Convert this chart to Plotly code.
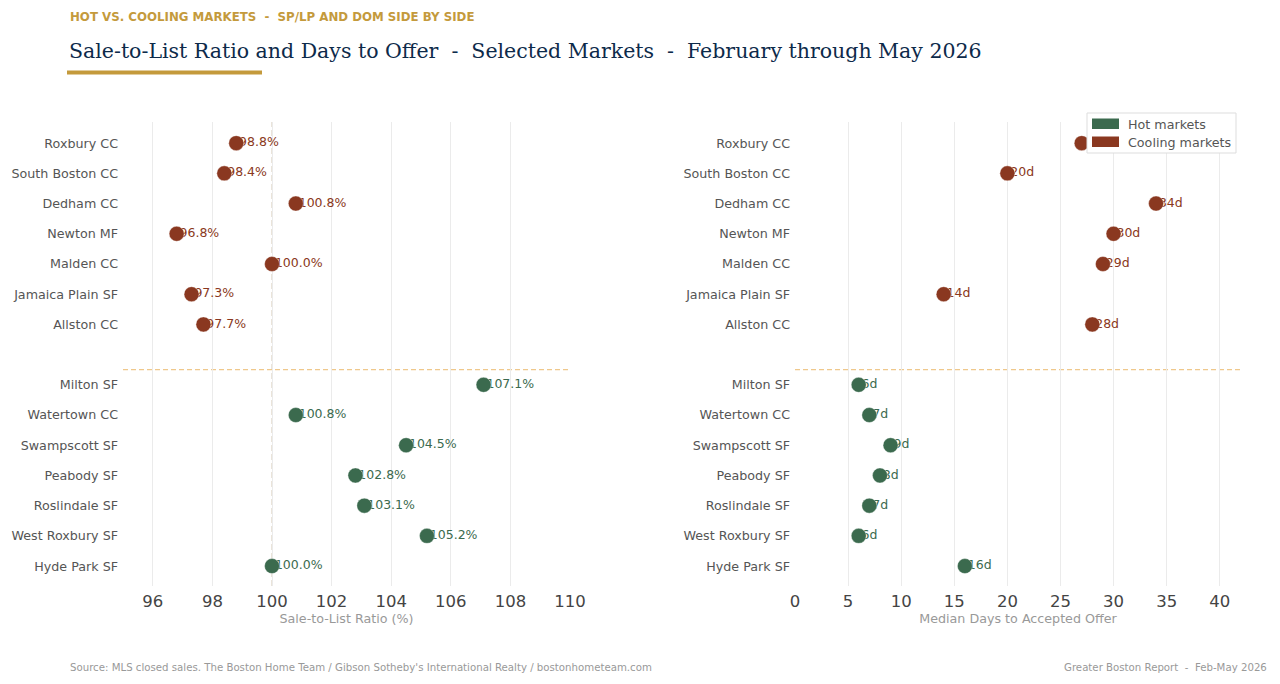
import plotly.graph_objects as go

# ---- data ----
cool_names = ["Roxbury CC", "South Boston CC", "Dedham CC", "Newton MF", "Malden CC", "Jamaica Plain SF", "Allston CC"]
cool_splp = [98.8, 98.4, 100.8, 96.8, 100.0, 97.3, 97.7]
cool_dom = [27, 20, 34, 30, 29, 14, 28]

hot_names = ["Milton SF", "Watertown CC", "Swampscott SF", "Peabody SF", "Roslindale SF", "West Roxbury SF", "Hyde Park SF"]
hot_splp = [107.1, 100.8, 104.5, 102.8, 103.1, 105.2, 100.0]
hot_dom = [6, 7, 9, 8, 7, 6, 16]

splp_ticks = [96, 98, 100, 102, 104, 106, 108, 110]
dom_ticks = [0, 5, 10, 15, 20, 25, 30, 35, 40]

GREEN = "#3b6a4e"
RUST = "#8a3820"
W, H = 1280, 684
FONT = "DejaVu Sans"

# row positions: hot rows at bottom, a gap row, cooling rows above
n_hot = len(hot_names)
hot_pos = [n_hot - 1 - i for i in range(n_hot)]
cool_pos = [n_hot + len(cool_names) - i for i in range(len(cool_names))]
gap = n_hot - 0.5

def px(x):
    return x / W

def py(y):
    return 1 - y / H

fig = go.Figure()

panels = [
    ("x", "y", cool_splp, hot_splp, "{:.1f}%"),
    ("x2", "y2", cool_dom, hot_dom, "{}d"),
]
for xa, ya, cv, hv, fmt in panels:
    for vals, pos, col in [(cv, cool_pos, RUST), (hv, hot_pos, GREEN)]:
        fig.add_trace(go.Scatter(
            x=vals, y=pos, mode="markers+text", xaxis=xa, yaxis=ya,
            marker=dict(size=3, color="rgba(0,0,0,0)"),
            text=[fmt.format(v) for v in vals], textposition="middle right",
            textfont=dict(family=FONT, size=12.5, color=col),
            showlegend=False, hoverinfo="skip", cliponaxis=False))
    for vals, pos, col in [(cv, cool_pos, RUST), (hv, hot_pos, GREEN)]:
        fig.add_trace(go.Scatter(
            x=vals, y=pos, mode="markers", xaxis=xa, yaxis=ya,
            marker=dict(size=15, color=col, line=dict(width=0.6, color="rgba(255,255,255,0.6)")),
            showlegend=False, cliponaxis=False))

ytickvals = cool_pos + hot_pos
yticktext = cool_names + hot_names
yr = [-0.66, 14.70]
ydom = [py(586), py(122)]

common_x = dict(showgrid=True, gridcolor="#ebebeb", gridwidth=1, zeroline=False,
                ticks="", showline=False, ticklabelstandoff=3,
                tickfont=dict(family=FONT, size=16.5, color="#444444"),
                title_font=dict(family=FONT, size=12.7, color="#999999"),
                title_standoff=4, automargin=False)
common_y = dict(showgrid=False, zeroline=False, showline=False, ticks="",
                tickvals=ytickvals, ticktext=yticktext, range=yr, domain=ydom,
                tickfont=dict(family=FONT, size=12.7, color="#555555"),
                automargin=False, ticklabelstandoff=4)

fig.update_layout(
    width=W, height=H, margin=dict(l=0, r=0, t=0, b=0),
    paper_bgcolor="white", plot_bgcolor="white",
    xaxis=dict(domain=[px(123), px(570)], range=[95, 110], tickvals=splp_ticks,
               title_text="Sale-to-List Ratio (%)", anchor="y", **common_x),
    yaxis=dict(anchor="x", **common_y),
    xaxis2=dict(domain=[px(795), px(1241)], range=[0, 42], tickvals=dom_ticks,
                title_text="Median Days to Accepted Offer", anchor="y2", **common_x),
    yaxis2=dict(anchor="x2", **common_y),
    showlegend=False,
)

shapes = []
# 100% reference line
shapes.append(dict(type="line", xref="x", yref="y domain", x0=100, x1=100, y0=0, y1=1,
                   line=dict(color="#e2d9cb", width=1.4, dash="6px,3px"), layer="below"))
# separators
for xr, yr_ in [("x domain", "y"), ("x2 domain", "y2")]:
    shapes.append(dict(type="line", xref=xr, yref=yr_, x0=0, x1=1, y0=gap, y1=gap,
                       line=dict(color="#efc88c", width=1.3, dash="5px,3px"), layer="below"))
# gold underline
shapes.append(dict(type="rect", xref="paper", yref="paper", x0=px(67), x1=px(262),
                   y0=py(74.5), y1=py(70.5), fillcolor="#c49a3c", line=dict(width=0)))
# legend box
shapes.append(dict(type="rect", xref="paper", yref="paper", x0=px(1087), x1=px(1236),
                   y0=py(153), y1=py(113), fillcolor="white", line=dict(color="#dddddd", width=1),
                   layer="above"))
shapes.append(dict(type="rect", xref="paper", yref="paper", x0=px(1092), x1=px(1119),
                   y0=py(129), y1=py(118.5), fillcolor=GREEN, line=dict(width=0), layer="above"))
shapes.append(dict(type="rect", xref="paper", yref="paper", x0=px(1092), x1=px(1119),
                   y0=py(147), y1=py(136.5), fillcolor=RUST, line=dict(width=0), layer="above"))
fig.update_layout(shapes=shapes)

ann = [
    dict(text="<b>HOT VS. COOLING MARKETS\u00a0 -\u00a0 SP/LP AND DOM SIDE BY SIDE</b>",
         x=px(68), y=py(17), xanchor="left", yanchor="middle",
         font=dict(family=FONT, size=11.8, color="#c49a3c")),
    dict(text="Sale-to-List Ratio and Days to Offer\u00a0 -\u00a0 Selected Markets\u00a0 -\u00a0 February through May 2026",
         x=px(67), y=py(51), xanchor="left", yanchor="middle",
         font=dict(family="DejaVu Serif", size=20.5, color="#0d2a4a")),
    dict(text="Source: MLS closed sales. The Boston Home Team / Gibson Sotheby's International Realty / bostonhometeam.com",
         x=px(68), y=py(667), xanchor="left", yanchor="middle",
         font=dict(family=FONT, size=10.2, color="#999999")),
    dict(text="Greater Boston Report\u00a0 -\u00a0 Feb-May 2026",
         x=px(1269), y=py(667), xanchor="right", yanchor="middle",
         font=dict(family=FONT, size=10.2, color="#999999")),
    dict(text="Hot markets", x=px(1126), y=py(124), xanchor="left", yanchor="middle",
         font=dict(family=FONT, size=12.7, color="#555555")),
    dict(text="Cooling markets", x=px(1126), y=py(142), xanchor="left", yanchor="middle",
         font=dict(family=FONT, size=12.7, color="#555555")),
]
for a in ann:
    a.update(xref="paper", yref="paper", showarrow=False)
fig.update_layout(annotations=ann)

fig.write_html("out.html")
